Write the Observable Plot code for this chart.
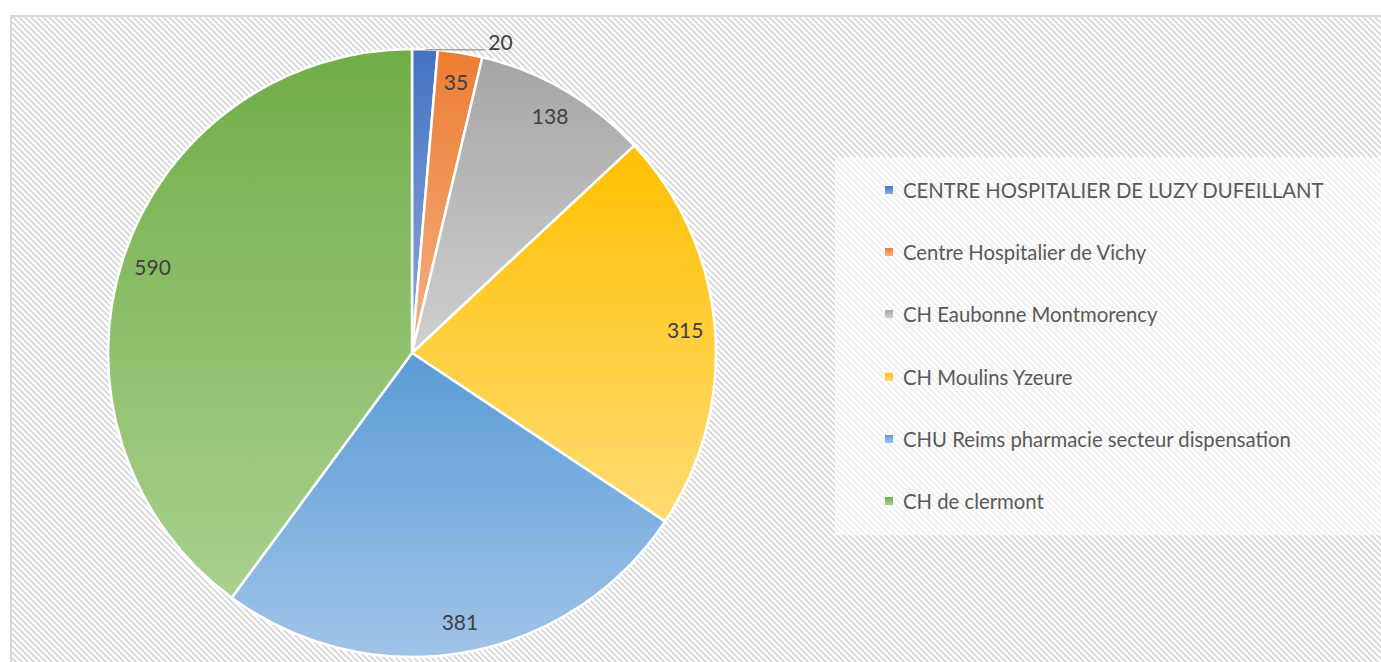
<!DOCTYPE html>
<html>
<head>
<meta charset="utf-8">
<script src="https://cdn.jsdelivr.net/npm/d3@7"></script>
<script src="https://cdn.jsdelivr.net/npm/@observablehq/plot@0.6"></script>
<style>
  html, body { margin: 0; padding: 0; background: #ffffff; overflow: hidden; }
  #wrap { position: relative; width: 1381px; height: 662px; overflow: hidden; font-family: Lato, "Open Sans", sans-serif; }
  #frame {
    position: absolute; left: 10px; top: 15px; width: 1400px; height: 700px;
    border: 2px solid #d9d9d9; box-sizing: border-box; background-color: #ffffff;
  }
  #legendbox {
    position: absolute; left: 835px; top: 157px; width: 560px; height: 378px; background-color: #ffffff;
  }
  #chart { position: absolute; left: 0; top: 0; }
  .lg-item { position: absolute; left: 885px; height: 24px; display: flex; align-items: center; color: #595959; font-size: 20.3px; white-space: nowrap; }
  .lg-sw { width: 8px; height: 8px; margin-right: 10px; }
</style>
</head>
<body>
<div id="wrap">
  <div id="frame"></div>
  <div id="legendbox"></div>
  <div id="chart"></div>
  <div id="legend"></div>
</div>
<script>
// ---- data ----
const categories = [
  "CENTRE HOSPITALIER DE LUZY DUFEILLANT",
  "Centre Hospitalier de Vichy",
  "CH Eaubonne Montmorency",
  "CH Moulins Yzeure",
  "CHU Reims pharmacie secteur dispensation",
  "CH de clermont"
];
const values = [20, 35, 138, 315, 381, 590];

// ---- palette (style) ----
const colorTop    = ["#4472C4", "#ED7D31", "#A5A5A5", "#FFC000", "#5B9BD5", "#70AD47"];
const colorBottom = ["#8FAADC", "#F4B183", "#D0D0D0", "#FFDC73", "#A0C4E8", "#A9D18E"];

// ---- hatch background tiles (pixel-exact diagonal stripes) ----
function hatchTile(stripe, period, on) {
  const c = document.createElement("canvas");
  c.width = period; c.height = period;
  const ctx = c.getContext("2d");
  ctx.fillStyle = "#ffffff"; ctx.fillRect(0, 0, period, period);
  ctx.fillStyle = stripe;
  for (let y = 0; y < period; y++)
    for (let x = 0; x < period; x++)
      if (((x - y) % period + period) % period < on) ctx.fillRect(x, y, 1, 1);
  return c.toDataURL();
}
document.getElementById("frame").style.backgroundImage = `url(${hatchTile("#dddddd", 6, 3)})`;
document.getElementById("legendbox").style.backgroundImage = `url(${hatchTile("#f1f1f1", 6, 3)})`;

const table = categories.map((c, i) => ({category: c, value: values[i], i}));
const arcs = d3.pie().sort(null).value(d => d.value)(table);
const total = d3.sum(values);

// label positions in data units (pie radius = 1), from slice mid-angles
const labels = arcs.map(a => {
  const mid = (a.startAngle + a.endAngle) / 2;
  const small = a.data.value / total < 0.02;
  const r = small ? 1 : 0.9;
  return {value: a.data.value, small, x: r * Math.sin(mid), y: r * Math.cos(mid)};
});
const inside = labels.filter(d => !d.small);
const outside = labels.filter(d => d.small).map(d => ({...d, x2: d.x + 0.197}));

function pieMark(index, scales) {
  const cx = scales.x(0), cy = scales.y(0);
  const r = Math.abs(scales.x(1) - scales.x(0));
  const g = d3.create("svg:g");
  const defs = g.append("defs");
  arcs.forEach((a, i) => {
    const lg = defs.append("linearGradient")
      .attr("id", "slgrad" + i)
      .attr("x1", 0).attr("y1", 0).attr("x2", 0).attr("y2", 1);
    lg.append("stop").attr("offset", "0%").attr("stop-color", colorTop[i]);
    lg.append("stop").attr("offset", "100%").attr("stop-color", colorBottom[i]);
  });
  const arc = d3.arc().innerRadius(0).outerRadius(r);
  g.append("g")
    .attr("transform", `translate(${cx},${cy})`)
    .selectAll("path")
    .data(arcs)
    .join("path")
    .attr("d", arc)
    .attr("fill", (d, i) => `url(#slgrad${i})`)
    .attr("stroke", "#ffffff")
    .attr("stroke-width", 2.5)
    .attr("stroke-linejoin", "round");
  return g.node();
}

const plot = Plot.plot({
  width: 1381,
  height: 662,
  marginLeft: 108,
  marginRight: 665,
  marginTop: 49,
  marginBottom: 5,
  x: {domain: [-1, 1], axis: null},
  y: {domain: [-1, 1], axis: null},
  style: {background: "transparent", fontFamily: "Lato, 'Open Sans', sans-serif", overflow: "visible"},
  marks: [
    pieMark,
    Plot.link(outside, {x1: "x", y1: "y", x2: "x2", y2: "y", stroke: "#a6a6a6", strokeWidth: 1.5}),
    Plot.text(inside, {x: "x", y: "y", text: d => String(d.value), fontSize: 21, fill: "#404040"}),
    Plot.text(outside, {x: "x2", y: "y", text: d => String(d.value), fontSize: 21, fill: "#404040", textAnchor: "start", dx: 3, dy: -7})
  ]
});
document.getElementById("chart").appendChild(plot);

// legend (HTML)
const legend = d3.select("#legend");
categories.forEach((c, i) => {
  const item = legend.append("div").attr("class", "lg-item").style("top", (190 - 12 + i * 62.2) + "px");
  item.append("div").attr("class", "lg-sw")
    .style("background", `linear-gradient(to bottom, ${colorTop[i]}, ${colorBottom[i]})`);
  item.append("span").text(c);
});
</script>
</body>
</html>
